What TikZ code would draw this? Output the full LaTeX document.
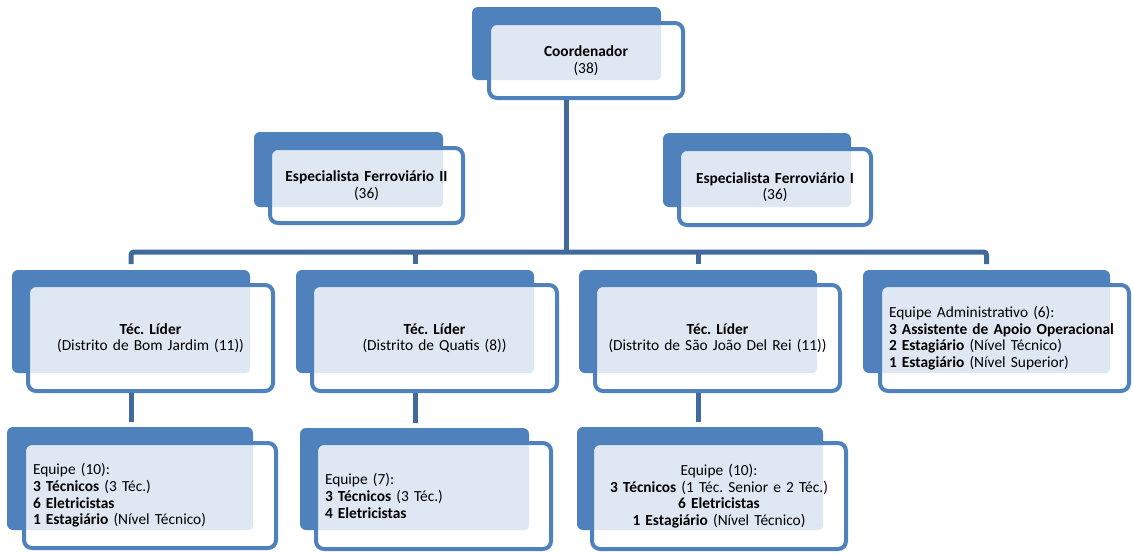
\documentclass[tikz,border=0pt]{standalone}
\usepackage{fontspec}
\setmainfont{Carlito}
\frenchspacing
\definecolor{boxblue}{HTML}{4F81BD}
\definecolor{linkblue}{HTML}{41699B}
\definecolor{dotblue}{RGB}{222,231,242}

\tikzset{
  backbox/.style={fill=boxblue, rounded corners=6pt, inner sep=0pt, outer sep=0pt},
  frontbox/.style={draw=boxblue, line width=4pt, fill=white, rounded corners=8pt,
    inner xsep=9pt, inner ysep=0pt, outer sep=0pt,
    font=\fontsize{15.4}{16.6}\selectfont},
  dotfill/.style={fill=dotblue, rounded corners=4pt},
  conn/.style={draw=linkblue, line width=5pt},
}

% back plate: name, x1, y1, x2, y2 (pixel coordinates, y downwards)
\newcommand{\orgback}[5]{%
  \pgfmathsetmacro\orgW{#4-#2}\pgfmathsetmacro\orgH{#5-#3}%
  \node[backbox, minimum width=\orgW pt, minimum height=\orgH pt]
    (#1) at ({(#2+#4)/2},{-(#3+#5)/2}) {};}

% front card: name, x1, y1, x2, y2 (outer edge), plate x2, plate y2, align, text
\newcommand{\orgfront}[9]{%
  \pgfmathsetmacro\orgW{#4-#2-4}\pgfmathsetmacro\orgH{#5-#3-4}%
  \pgfmathsetmacro\orgT{#4-#2-4-18}%
  \pgfmathsetmacro\orgSx{#6-#4+2}\pgfmathsetmacro\orgSy{#5-2-#7}%
  \node[frontbox, minimum width=\orgW pt, minimum height=\orgH pt,
    text width=\orgT pt, align=#8,
    path picture={\fill[dotfill] ([shift={(-6pt,6pt)}]path picture bounding box.north west)
      rectangle ([shift={(\orgSx pt,\orgSy pt)}]path picture bounding box.south east);}]
    (#1) at ({(#2+#4)/2},{-(#3+#5)/2}) {#9};}

\begin{document}
\begin{tikzpicture}[x=1pt, y=1pt]
\useasboundingbox (0,0) rectangle (1133,-552);

% back plates
\orgback{coordb}{472}{7}{661}{80}
\orgback{spectwob}{254}{132}{443}{207}
\orgback{somb}{663}{133}{851}{207}
\orgback{lonb}{12}{270}{250}{373}
\orgback{ltwb}{296}{270}{534}{373}
\orgback{lthb}{579}{270}{817}{373}
\orgback{lfob}{863}{270}{1110}{373}
\orgback{monb}{7}{427}{253}{530}
\orgback{mtwb}{300}{428}{529}{530}
\orgback{mthb}{577}{427}{823}{530}

% connectors
\coordinate (bus) at (0,-252);
\draw[conn] (coordb.south) -- (coordb.south |- bus);
\draw[conn, rounded corners=3pt] ([yshift=6pt]lonb.north) -- (lonb.north |- bus)
  -- (lfob.north |- bus) -- ([yshift=6pt]lfob.north);
\draw[conn] ([yshift=6pt]ltwb.north) -- (ltwb.north |- bus);
\draw[conn] ([yshift=6pt]lthb.north) -- (lthb.north |- bus);
\draw[conn] (lonb.south) -- ([yshift=5pt]lonb.south |- monb.north);
\draw[conn] (ltwb.south) -- ([yshift=5pt]ltwb.south |- mtwb.north);
\draw[conn] (lthb.south) -- ([yshift=5pt]lthb.south |- mthb.north);

% front cards
\orgfront{coord}{487}{21}{685}{100}{661}{80}{center}{\textbf{Coordenador}\\(38)}
\orgfront{spectwo}{268}{146}{465}{225}{443}{207}{center}{\textbf{Especialista Ferroviário II}\\(36)}
\orgfront{som}{677}{147}{873}{227}{851}{207}{center}{\textbf{Especialista Ferroviário I}\\(36)}
\orgfront{lon}{26}{283}{275}{393}{250}{373}{center}{\textbf{Téc. Líder}\\(Distrito de Bom Jardim (11))}
\orgfront{ltw}{310}{283}{559}{393}{534}{373}{center}{\textbf{Téc. Líder}\\(Distrito de Quatis (8))}
\orgfront{lth}{593}{283}{842}{393}{817}{373}{center}{\textbf{Téc. Líder}\\(Distrito de São João Del Rei (11))}
\orgfront{lfo}{878}{283}{1131}{393}{1110}{373}{left}{Equipe Administrativo (6):\\\textbf{3 Assistente de Apoio Operacional}\\\textbf{2 Estagiário} (Nível Técnico)\\\textbf{1 Estagiário} (Nível Superior)}
\orgfront{mon}{22}{441}{278}{550}{253}{530}{left}{Equipe (10):\\\textbf{3 Técnicos} (3 Téc.)\\\textbf{6 Eletricistas}\\\textbf{1 Estagiário} (Nível Técnico)}
\orgfront{mtw}{314}{441}{553}{551}{529}{530}{left}{Equipe (7):\\\textbf{3 Técnicos} (3 Téc.)\\\textbf{4 Eletricistas}}
\orgfront{mth}{590}{441}{848}{551}{823}{530}{center}{Equipe (10):\\\textbf{3 Técnicos} (1 Téc. Senior e 2 Téc.)\\\textbf{6 Eletricistas}\\\textbf{1 Estagiário} (Nível Técnico)}
\end{tikzpicture}
\end{document}
